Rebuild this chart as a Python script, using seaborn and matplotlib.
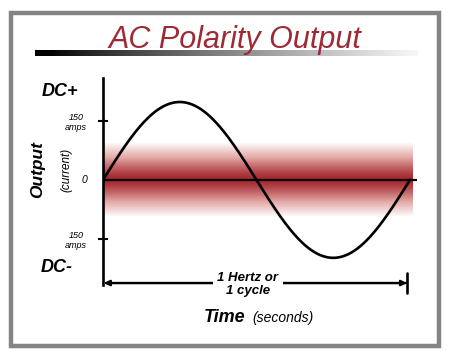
import numpy as np
import pandas as pd
import matplotlib
matplotlib.use('Agg')
import matplotlib.pyplot as plt
import seaborn as sns
from matplotlib.patches import Rectangle
from matplotlib.colors import LinearSegmentedColormap

sns.set_style('white')
plt.rcParams['font.family'] = ['Liberation Sans', 'DejaVu Sans']
plt.rcParams['text.color'] = 'black'
plt.rcParams['ytick.color'] = 'black'

# --- data ---
peak_amps = 198          # peak of the AC wave (150 amps tick sits below it)
cycles = 1               # one full cycle shown = 1 Hertz
tick_amps = [150, -150]
tick_labels = ['150\namps', '150\namps']
band_amps = 95           # half height of the red zero band

t = np.linspace(0, cycles, 400)
wave = pd.DataFrame({'time': t, 'amps': peak_amps * np.sin(2 * np.pi * t)})

# --- figure ---
fig = plt.figure(figsize=(4.5, 3.58), dpi=100)
W, H = 450, 358

def fx(px):
    return px / W

def fy(py):
    return 1 - py / H

# grey frame
fig.patches.append(Rectangle((fx(11), fy(346)), fx(428), fy(13) - fy(346),
                             transform=fig.transFigure, fill=False,
                             edgecolor='#848484', linewidth=3.2))

# title + fading bar
fig.text(fx(235), fy(48), 'AC Polarity Output', ha='center', va='baseline',
         fontsize=22, style='italic', color='#9e2a36', zorder=5)
bar_ax = fig.add_axes([fx(35), fy(56), fx(382), fy(50) - fy(56)])
g = np.linspace(0, 1, 400)
shade = np.clip((g - 0.04) / 0.96, 0, 1) ** 0.85
bar_ax.imshow(shade[None, :], aspect='auto', cmap='gray', vmin=0, vmax=1.03)
bar_ax.axis('off')

# main axes (x in cycles, y in amps)
ax = fig.add_axes([fx(103), fy(285), fx(314), fy(78) - fy(285)])
ax.set_xlim(0, 314 / 307)
ax.set_ylim(-267, 259)

# red band around zero
red = LinearSegmentedColormap.from_list('band', ['white', '#e3a9a6', '#a3262d'])
d = np.linspace(-1, 1, 200)
profile = np.clip(1 - np.abs(d) ** 1.3, 0, 1)
ax.imshow(profile[:, None], aspect='auto', cmap=red, vmin=0, vmax=1,
          extent=[0, 309 / 307, -band_amps, band_amps], zorder=0)

ax.axhline(0, color='black', linewidth=1.6, zorder=2)
sns.lineplot(data=wave, x='time', y='amps', ax=ax, color='black',
             linewidth=1.9, zorder=3)

for s in ['top', 'right', 'bottom']:
    ax.spines[s].set_visible(False)
ax.spines['left'].set_linewidth(1.9)
ax.spines['left'].set_color('black')
ax.set_xticks([])
ax.set_yticks(tick_amps)
ax.set_yticklabels(tick_labels, fontsize=6.5, style='italic')
for lab in ax.get_yticklabels():
    lab.set_multialignment('center')
ax.tick_params(axis='y', direction='inout', length=7, width=1.5, pad=8, left=True)
ax.set_xlabel('')
ax.set_ylabel('')
ax.text(-0.05, 0, '0', ha='right', va='center', fontsize=7.5, style='italic')

# DC labels and y title
fig.text(fx(60), fy(91), 'DC+', ha='center', va='center', fontsize=13,
         weight='bold', style='italic')
fig.text(fx(57), fy(268), 'DC-', ha='center', va='center', fontsize=13,
         weight='bold', style='italic')
fig.text(fx(38), fy(170), 'Output', ha='center', va='center', fontsize=12.5,
         weight='bold', style='italic', rotation=90)
fig.text(fx(66), fy(170), '(current)', ha='center', va='center', fontsize=8.5,
         style='italic', rotation=90)

# cycle arrow
y_arrow = -262
ax.annotate('', xy=(0.003, y_arrow), xytext=(0.99, y_arrow),
            arrowprops=dict(arrowstyle='-|>', color='black', lw=1.6,
                            mutation_scale=8, shrinkA=0, shrinkB=0),
            annotation_clip=False)
ax.annotate('', xy=(0.99, y_arrow), xytext=(0.01, y_arrow),
            arrowprops=dict(arrowstyle='-|>', color='black', lw=1.6,
                            mutation_scale=8, shrinkA=0, shrinkB=0),
            annotation_clip=False)
ax.plot([0.99, 0.99], [y_arrow - 25, y_arrow + 25], color='black',
        linewidth=1.9, clip_on=False)
ax.text(0.472, y_arrow - 4, '1 Hertz or\n1 cycle', ha='center', va='center',
        fontsize=9.5, weight='bold', style='italic', linespacing=1.15,
        bbox=dict(facecolor='white', edgecolor='none', pad=3), zorder=6)

# x title
fig.text(fx(245), fy(322), 'Time', ha='right', va='baseline', fontsize=13,
         weight='bold', style='italic')
fig.text(fx(252), fy(322), '(seconds)', ha='left', va='baseline', fontsize=10,
         style='italic')

fig.savefig('out.png', dpi=100)
